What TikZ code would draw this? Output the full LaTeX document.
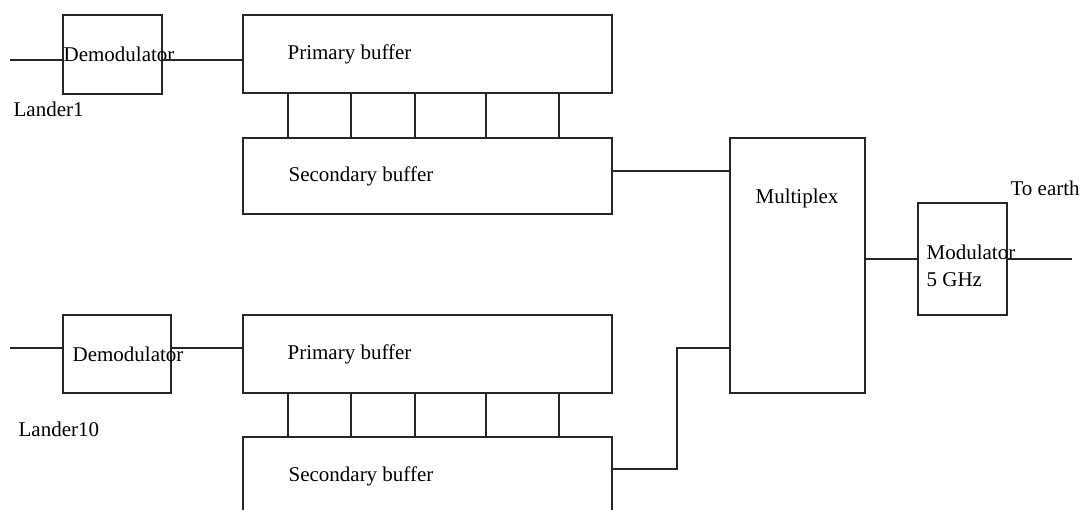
\documentclass[tikz,border=0pt]{standalone}
\usepackage{fontspec}
\setmainfont{Liberation Serif}
\begin{document}
\begin{tikzpicture}[x=1pt,y=-1pt,line width=1.2pt,
  blk/.style={draw=black!85,rectangle,outer sep=0pt,inner sep=0pt},
  lbl/.style={anchor=west,inner sep=0pt,font=\fontsize{21}{24}\selectfont},
  wire/.style={draw=black!85,line width=1.2pt}]
\useasboundingbox (0,0) rectangle (1083,509);
\clip (0,0) rectangle (1083,509);
\fill[white] (0,0) rectangle (1083,509);
% boxes
\node[blk,minimum width=99pt,minimum height=79pt] (d1) at (112.5,54.5) {};
\node[blk,minimum width=369pt,minimum height=78pt] (p1) at (427.5,54) {};
\node[blk,minimum width=369pt,minimum height=76pt] (s1) at (427.5,176) {};
\node[blk,minimum width=108pt,minimum height=78pt] (d2) at (117,354) {};
\node[blk,minimum width=369pt,minimum height=78pt] (p2) at (427.5,354) {};
\node[blk,minimum width=369pt,minimum height=80pt] (s2) at (427.5,477) {};
\node[blk,minimum width=135pt,minimum height=255pt] (mux) at (797.5,265.5) {};
\node[blk,minimum width=89pt,minimum height=112pt] (mod) at (962.5,259) {};
\coordinate (in1) at (10,60);
\coordinate (in2) at (10,348);
\coordinate (out) at (1072,259);
% texts
\node[lbl] (t1) at (63,54) {Demodulator};
\node[lbl] (t2) at (13,109) {Lander1};
\node[lbl] (t3) at (287,54) {Primary buffer};
\node[lbl] (t4) at (288,176) {Secondary buffer};
\node[lbl] (t5) at (72,354) {Demodulator};
\node[lbl] (t6) at (18,429) {Lander10};
\node[lbl] (t7) at (287,354) {Primary buffer};
\node[lbl] (t8) at (288,476) {Secondary buffer};
\node[lbl] (t9) at (755,198) {Multiplex};
\node[lbl] (t10) at (926,252) {Modulator};
\node[lbl] (t11) at (926,280) {5 GHz};
\node[lbl] (t12) at (1010,188) {To earth};
% connectors
\draw[wire] (in1) -- (in1 -| d1.west);
\draw[wire] (d1.east |- in1) -- (p1.west |- in1);
\draw[wire] (in2) -- (in2 -| d2.west);
\draw[wire] (d2.east |- in2) -- (p2.west |- in2);
\foreach \dx in {45,108,172,243,316}{
  \draw[wire] ([xshift=\dx pt]p1.south west) -- ([xshift=\dx pt]s1.north west);
  \draw[wire] ([xshift=\dx pt]p2.south west) -- ([xshift=\dx pt]s2.north west);
}
\draw[wire] ([yshift=5pt]s1.east) coordinate (a1) -- (a1 -| mux.west);
\draw[wire] ([yshift=8pt]s2.east) -| ([xshift=-53pt,yshift=-82.5pt]mux.west) -- ([yshift=-82.5pt]mux.west);
\draw[wire] (mod.west -| mux.east) -- (mod.west);
\draw[wire] (mod.east) -- (out);
\end{tikzpicture}
\end{document}
